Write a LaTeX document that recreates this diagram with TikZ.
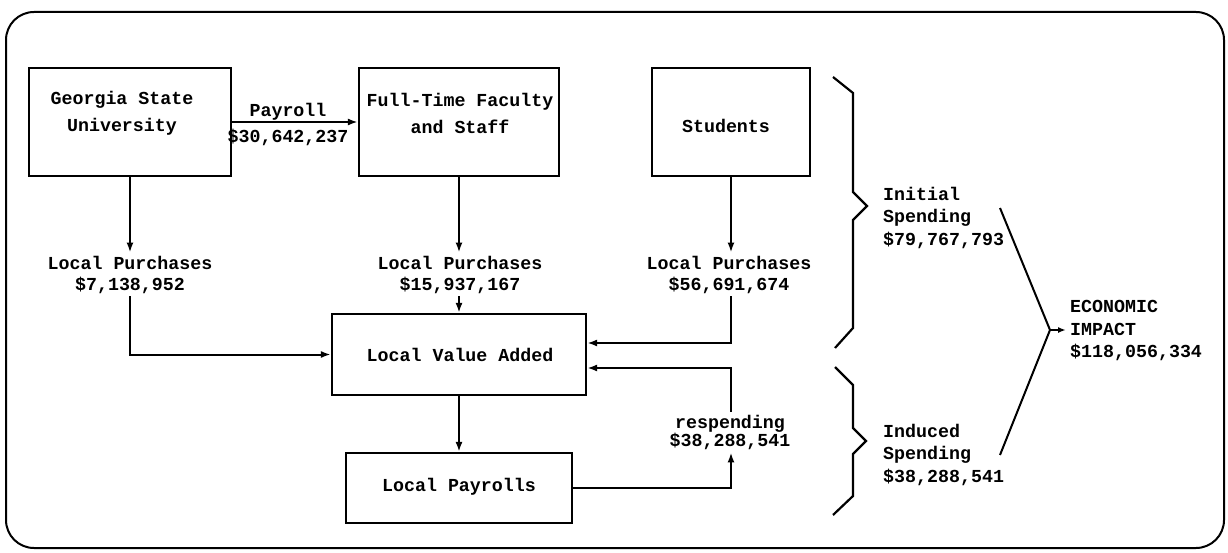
\documentclass[tikz,border=0pt]{standalone}
\usepackage{fontspec}
\newfontfamily\tw{Liberation Mono}
\usetikzlibrary{arrows.meta}
\begin{document}
\begin{tikzpicture}[x=1pt,y=-1pt,
  box/.style={draw,line width=2.2pt,inner sep=0pt},
  txt/.style={font=\tw\bfseries\fontsize{18.3}{27}\selectfont,align=center,inner sep=3pt},
  lab/.style={font=\tw\bfseries\fontsize{18.3}{21}\selectfont,align=center,inner sep=3pt},
  side/.style={font=\tw\bfseries\fontsize{18.3}{22.5}\selectfont,align=left,inner sep=4pt,anchor=west},
  conn/.style={line width=2pt},
  arr/.style={conn,-{Latex[length=10pt,width=7pt]}},
  brace/.style={line width=2.2pt,line join=miter}]
\useasboundingbox (0,0) rectangle (1228,553);
\draw[line width=2pt,rounded corners=28pt] (6,12) rectangle (1224,548);
% boxes
\node[box,minimum width=202pt,minimum height=108pt] (gsu) at (130,122) {};
\node[box,minimum width=200pt,minimum height=108pt] (ft) at (459,122) {};
\node[box,minimum width=158pt,minimum height=108pt] (st) at (731,122) {};
\node[box,minimum width=254pt,minimum height=81pt] (lva) at (459,354.5) {};
\node[box,minimum width=226pt,minimum height=70pt] (lp) at (459,488) {};
% box texts
\node[txt] (gsuT) at (122,113) {Georgia State\\University};
\node[txt] (ftT) at (460,113) {Full-Time Faculty\\and Staff};
\node[txt] (stT) at (726,126) {Students};
\node[txt] (lvaT) at (460,355) {Local Value Added};
\node[txt] (lpT) at (459,487) {Local Payrolls};
% labels
\node[lab] (pay1) at (288,112) {Payroll};
\node[lab] (pay2) at (288,137) {\$30,642,237};
\node[lab] (lp1) at (130,274.5) {Local Purchases\\\$7,138,952};
\node[lab] (lp2) at (460,274.5) {Local Purchases\\\$15,937,167};
\node[lab] (lp3) at (729,274.5) {Local Purchases\\\$56,691,674};
\node[font=\tw\bfseries\fontsize{18.3}{18}\selectfont,align=center,inner sep=3pt] (resp) at (730,432) {respending\\\$38,288,541};
\node[side] (init) at (879,217.5) {Initial\\Spending\\\$79,767,793};
\node[side] (ind) at (879,454.5) {Induced\\Spending\\\$38,288,541};
\node[side] (econ) at (1066,330.5) {ECONOMIC\\IMPACT\\\$118,056,334};
% connectors
\draw[arr] (gsu.east) -- (ft.west);
\draw[arr] (gsu.south -| lp1.north) -- (lp1.north);
\draw[arr] (ft.south) -- (ft.south |- lp2.north);
\draw[arr] (st.south) -- (st.south |- lp3.north);
\draw[arr] (lp1.south) |- (lva.west);
\draw[arr] (ft.south |- lp2.south) -- (ft.south |- lva.north);
\draw[arr] (st.south |- lp3.south) |- ([yshift=11.5pt]lva.east);
\draw[arr] (lva.south) -- (lp.north);
\draw[arr] (lp.east) -| (st.south |- resp.south);
\draw[arr] (st.south |- resp.north) |- ([yshift=-13.5pt]lva.east);
% braces
\draw[brace] (833,77) -- (853,93) -- (853,192) -- (867,206) -- (853,220) -- (853,328) -- (835,348);
\draw[brace] (835,367) -- (853,385) -- (853,428) -- (866,441) -- (853,454) -- (853,496) -- (833,515);
% converging lines
\coordinate (vtip) at (1050,330);
\draw[conn,line join=miter] (1000,208) -- (vtip) -- (1000,455);
\draw[conn,-{Latex[length=8pt,width=6pt]}] (vtip) -- (econ.west |- vtip);
\end{tikzpicture}
\end{document}
